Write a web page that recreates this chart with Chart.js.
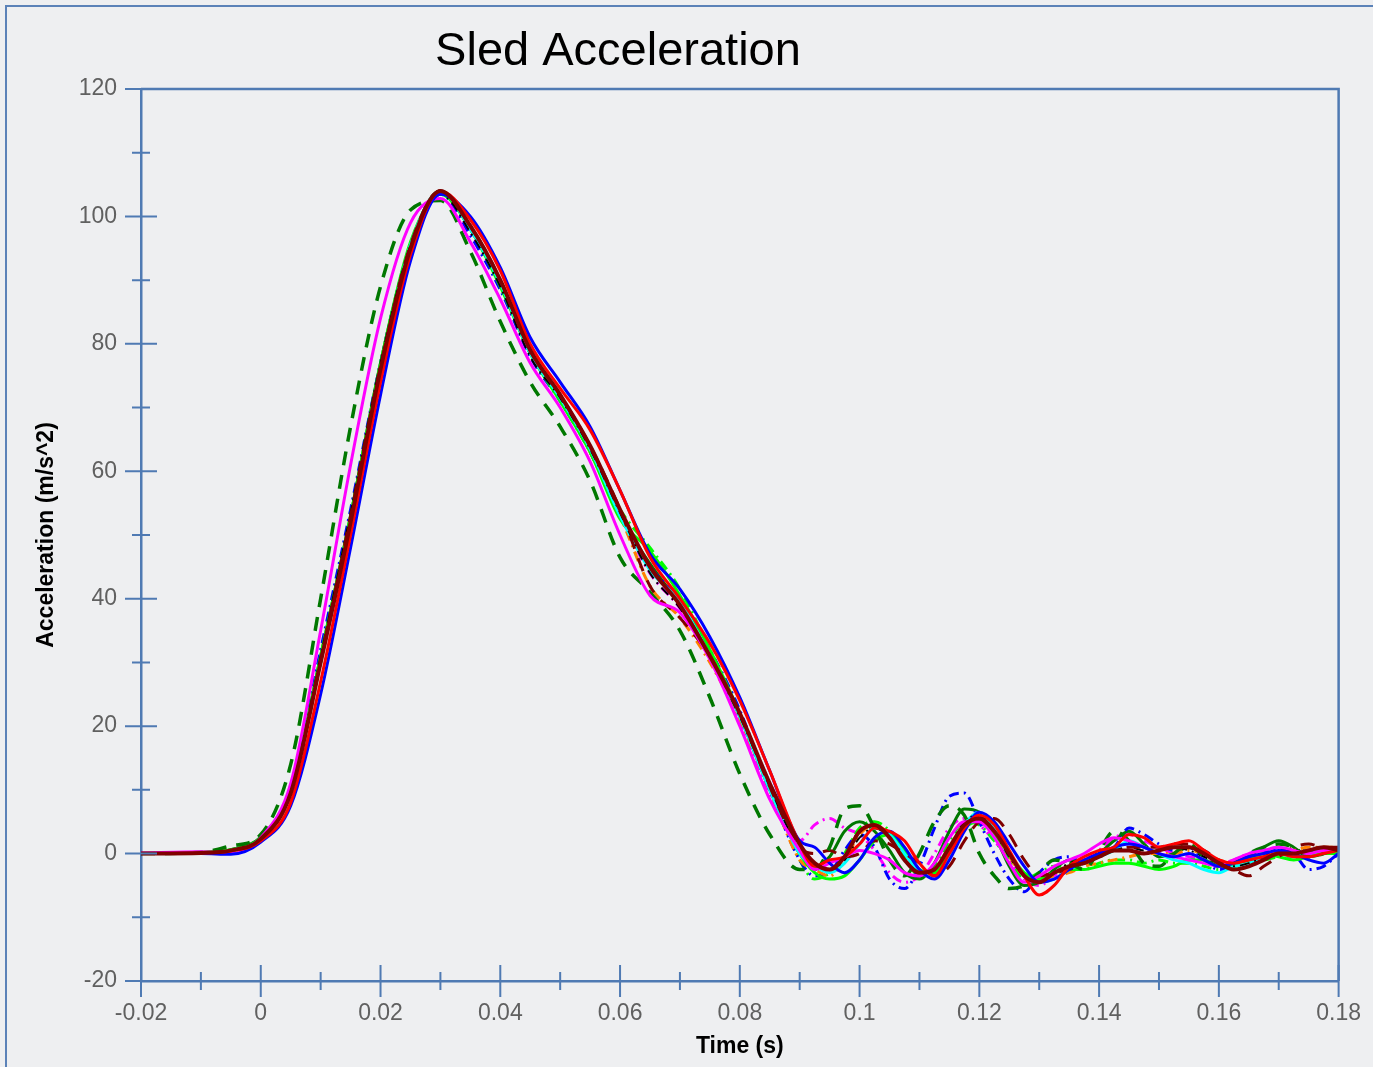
<!DOCTYPE html>
<html>
<head>
<meta charset="utf-8">
<title>Sled Acceleration</title>
<script src="https://cdn.jsdelivr.net/npm/chart.js@4.4.0/dist/chart.umd.min.js"></script>
<style>
  html, body { margin: 0; padding: 0; background: #eeeff1; overflow: hidden; }
  #wrap { width: 1380px; height: 1067px; position: relative; }
  canvas { display: block; }
</style>
</head>
<body>
<div id="wrap"><canvas id="sledChart"></canvas></div>
<script>
// sample times (s)
const time = [-0.02, -0.01, -0.005, 0, 0.005, 0.01, 0.015, 0.02, 0.025, 0.03, 0.035, 0.04, 0.045, 0.05,
  0.055, 0.06, 0.065, 0.07, 0.075, 0.08, 0.085, 0.09,
  0.0925, 0.095, 0.0975, 0.1, 0.1025, 0.105, 0.1075, 0.11, 0.1125, 0.115, 0.1175, 0.12, 0.1225, 0.125,
  0.1275, 0.13, 0.1325, 0.135, 0.1375, 0.14, 0.1425, 0.145, 0.1475, 0.15, 0.1525, 0.155, 0.1575, 0.16,
  0.1625, 0.165, 0.1675, 0.17, 0.1725, 0.175, 0.1775, 0.18];

// acceleration per test run (m/s^2)
const runMaroon = [0, 0.1, 0.5, 2.3, 9.5, 30, 52, 76, 95, 104, 98.5, 90, 79, 72, 64, 54, 45, 39, 31, 22, 11, 1.5,
  -1.5, -2.5, -0.5, 3.5, 4.5, 2.5, -1, -3, -2.5, 1, 4.5, 5.5, 3.5, 0, -3.5, -4.5, -3, -2, -1.5, -0.5,
  0.5, 0.5, 0, 0.5, 1, 1, 0, -1.5, -2.5, -2, -1, 0, 0, 0.5, 1, 0.5];
const runBlue = [0, 0, -0.1, 1.8, 7.5, 25, 48, 72, 93, 103.5, 100, 92, 81, 74, 67, 57, 47, 41.5, 34, 24.5, 13, 2,
  1, -1.5, -3, -1, 2.5, 3.5, 1, -2.5, -4, -1, 3.5, 6.5, 5, 1.5, -2, -4.5, -4, -2.5, -1, 0,
  1, 1.5, 1, 0, -0.5, 0, -1, -2, -1.5, -0.5, 0, 0.5, 0, -1, -1.5, 0];
const runRed = [0, 0.1, 0.4, 2, 8, 27, 50, 74, 94, 104, 99.5, 91.5, 80, 73, 66.5, 57, 46.5, 40, 33, 24, 13, 1.5,
  -2, -1, -0.5, 1.5, 4, 3.5, 2, -1.5, -3.5, 0, 4, 6, 4.5, 0.5, -3.5, -6.5, -5, -2, -0.5, 0.5,
  1, 3, 2.5, 1, 1.5, 2, 0.5, -1, -1.5, -1, -0.5, 0, -0.5, -0.5, 0, 0.5];
const runMagenta = [0.1, 0.3, 0, 2.5, 11, 35, 61, 84, 99, 102.8, 96, 87, 77, 70, 61.5, 50, 40.5, 37.8, 30.5, 20, 8.5, 0.5,
  -2.5, -1.5, -0.5, 0.5, 0, -1, -3, -3.5, -1.5, 2.5, 5, 5, 2.5, -1.5, -4.5, -3.5, -2, -1, 0, 1.5,
  2.5, 2, 1, 0, -0.5, -1, -1.5, -2, -1, 0, 0.5, 1, 0.5, 0, 0.5, 0.5];
const runGreenDash = [0, 0.2, 1.2, 3, 14, 40, 67, 89, 101, 102.5, 94.5, 83.5, 74, 67, 58.5, 46.5, 41, 35, 24.5, 12.5, 3, -2.5,
  -2.5, 1, 7, 7.5, 4, -1, -3.5, 0, 5, 7.5, 6, 0, -3.5, -5.5, -5, -3, -1, -1.5, -2.5, 0.5,
  3.5, 2, -1.5, -2, 0, 1.5, -0.5, -2, -1.5, 0, 1, 1.5, 1, -0.5, 0, 1];
const runLime = [0, 0.2, 0.6, 2.5, 10, 31, 53, 77, 96, 103.5, 98, 89, 78.5, 71, 63, 52.5, 47.5, 40.5, 32, 22, 10.5, 0,
  -3, -4, -3.5, -1, 2, 3, 0.5, -2.5, -3, 0.5, 4, 5, 3, 0, -3, -4, -3, -2.5, -2.5, -2,
  -1.5, -1.5, -2, -2.5, -2, -1, -1, -2, -2, -1, 0, -0.5, -1, -0.5, 0, 0];
const runCyan = [0, 0.1, 0.5, 2.4, 10, 30, 52, 76, 95.5, 104, 98, 89.5, 78.5, 71.5, 63.5, 53, 44.5, 39.5, 31, 21.5, 10, 0,
  -2, -3, -1.5, 1.5, 4, 3, 0, -3, -3.5, -0.5, 4.5, 6.5, 4, 0, -3.5, -4.5, -4, -2.5, -1.5, -0.5,
  0.5, 2, 1, 0, -1, -1.5, -2.5, -3, -2, -1.5, -0.5, 0, -0.5, 0, 0.5, 0.5];
const runOrange = [0, 0, 0.5, 2.3, 9.5, 30, 52, 76, 95, 103.5, 98, 89.5, 78.5, 71.5, 63, 53, 42, 37, 30, 21, 10, -1,
  -2.5, -3.5, -1, 3, 4.5, 3, 0.5, -2.5, -3, 0, 4, 5.5, 3, -0.5, -3.5, -4, -3.5, -3, -2, -1.5,
  -1, -0.5, 0, 0, 0, 0.5, 0, -1, -1.5, -1, -0.5, 0, 0.5, 1, 1, 1];
const runMaroonDash = [0, 0.1, 0.4, 2.2, 9.5, 30.5, 53, 76.5, 95.5, 104, 98.5, 90, 79, 72, 64, 54, 42, 37, 31, 22, 10.5, 1,
  0, 0.5, -0.5, 0, 2, 1.5, 0, -1.5, -3.5, -2, 2, 5, 5.5, 3, -1, -3.5, -3, -2.5, -1.5, -0.5,
  0.5, 1, 1, 1, 1.5, 1.5, 0.5, -1, -2.5, -3.5, -2, -0.5, 1, 1.5, 1, 1];
const runBlack = [0, 0.1, 0.5, 2.4, 10, 31, 53.5, 77, 95.5, 103.5, 97.5, 89, 78, 71.5, 63.5, 53.5, 44, 38.5, 30.5, 21.5, 10.5, 0.5,
  -1.5, -2.5, -1, 2.5, 4, 2.5, -1, -3, -2.5, 1, 5, 6, 3.5, -0.5, -3.5, -4.5, -3, -1.5, -1, 0,
  0.5, 1, 0.5, 0.5, 1, 0.5, -0.5, -1.5, -2, -1.5, -0.5, 0.5, 0.5, 0.5, 0.5, 0.5];
const runBlueDash = [0, 0.1, 0.5, 2.5, 10.5, 32, 54, 77, 95.5, 103.5, 97, 88.5, 78, 71, 63, 53, 45, 40, 32, 22.5, 10, -1,
  -3.5, -3, 0.5, 3, 1, -4, -5.5, -2, 4, 9, 9.5, 5, 0, -4, -6, -3, -1, -0.5, -1.5, 0,
  1, 4, 3, 1.5, 0.5, 1, -1, -2.5, -2, 0, 0.5, 0.5, 0, -2.5, -2, 0];
const runGreen = [0, 0.1, 0.6, 2.6, 10, 31, 53, 77, 95.5, 104, 98, 89.5, 78.5, 71.5, 63.5, 53, 45.5, 39, 31, 21.5, 10, 0,
  -2, -0.5, 3.5, 5, 3.5, 0.5, -3, -4, -1.5, 3.5, 7, 6.5, 3, -2, -5, -4.5, -2.5, -1, -1.5, 0,
  2, 3.5, 1.5, -0.5, 0, 1, 0, -1.5, -2, -0.5, 1, 2, 1, -0.5, 0, 1];
const runLimeDash = [0, 0.1, 0.4, 2.3, 9.5, 30, 52, 76, 95, 103.5, 98, 89.5, 78.5, 71.5, 63.5, 54, 48, 41.5, 32, 22, 10.5, -1,
  -4, -3, 0, 4, 5, 3.5, -0.5, -3.5, -2, 2, 5, 4.5, 2, -1, -4, -3, -2, -2, -2.5, -1.5,
  -1, -1, -1.5, -1, -1.5, -1.5, -2, -2.5, -1.5, -1, -1, -0.5, -0.5, 0, 0, 0];
const runMagentaDash = [0, 0.2, 0.5, 2.4, 10, 31, 53, 77, 95.5, 103.5, 97.5, 89, 78.5, 71.5, 63, 53, 44, 38.5, 30.5, 21, 9, 2,
  4.5, 5.5, 4, 3, 0.5, -3, -4.5, -3.5, 0, 4, 5.5, 4.5, 2, -1, -4, -5, -3.5, -2, -1, 0.5,
  2.5, 3, 2, 1, 0, -0.5, -1, -1.5, -1, 0, 0.5, 1, 0.5, 0, 0.5, 0.5];

// tick labels
const xTicks = [-0.02, 0, 0.02, 0.04, 0.06, 0.08, 0.1, 0.12, 0.14, 0.16, 0.18];
const yTicks = [-20, 0, 20, 40, 60, 80, 100, 120];

const axisColor = '#4f7ab3';
const font = '"Liberation Sans", Arial, sans-serif';
const solid = [];
const dashed = [14, 10];
const dashDot = [10, 5, 2, 5];

// first one is drawn on top
const runs = [
  { data: runMaroon, color: '#800000', dash: solid, width: 4 },
  { data: runRed, color: '#ff0000', dash: solid, width: 3 },
  { data: runBlue, color: '#0000ff', dash: solid, width: 3 },
  { data: runMagenta, color: '#ff00ff', dash: solid, width: 3 },
  { data: runGreenDash, color: '#007800', dash: dashed, width: 3.5 },
  { data: runMaroonDash, color: '#800000', dash: dashed, width: 3 },
  { data: runBlack, color: '#000000', dash: dashDot, width: 2 },
  { data: runCyan, color: '#00ffff', dash: solid, width: 3 },
  { data: runLime, color: '#00ff00', dash: solid, width: 3 },
  { data: runOrange, color: '#ff8000', dash: dashDot, width: 3 },
  { data: runBlueDash, color: '#0000ff', dash: dashDot, width: 3 },
  { data: runGreen, color: '#007800', dash: solid, width: 3 },
  { data: runLimeDash, color: '#00ff00', dash: dashDot, width: 3 },
  { data: runMagentaDash, color: '#ff00ff', dash: dashDot, width: 3 }
];

const datasets = runs.map(r => ({
  data: r.data.map((v, i) => ({ x: time[i], y: v })),
  borderColor: r.color,
  borderDash: r.dash,
  borderWidth: r.width,
  pointRadius: 0,
  fill: false,
  cubicInterpolationMode: 'monotone'
}));

const frameAndTicks = {
  id: 'frameAndTicks',
  afterDraw(chart) {
    const { ctx, chartArea: a, scales: { x, y } } = chart;
    ctx.save();
    // outer border
    ctx.strokeStyle = '#5b82b8';
    ctx.lineWidth = 2;
    ctx.strokeRect(6, 6, chart.width + 10, chart.height + 10);

    ctx.strokeStyle = axisColor;
    ctx.lineWidth = 2.5;
    ctx.beginPath();
    ctx.moveTo(a.left, a.top);
    ctx.lineTo(a.right, a.top);
    ctx.lineTo(a.right, a.bottom);
    ctx.stroke();

    ctx.lineWidth = 2;
    ctx.beginPath();
    xTicks.forEach((v, i) => {
      const px = x.getPixelForValue(v);
      ctx.moveTo(px, a.bottom - 16);
      ctx.lineTo(px, a.bottom + 16);
      if (i < xTicks.length - 1) {
        const m = x.getPixelForValue((v + xTicks[i + 1]) / 2);
        ctx.moveTo(m, a.bottom - 9);
        ctx.lineTo(m, a.bottom + 9);
      }
    });
    yTicks.forEach((v, i) => {
      const py = y.getPixelForValue(v);
      ctx.moveTo(a.left - 16, py);
      ctx.lineTo(a.left + 16, py);
      if (i < yTicks.length - 1) {
        const m = y.getPixelForValue((v + yTicks[i + 1]) / 2);
        ctx.moveTo(a.left - 9, m);
        ctx.lineTo(a.left + 9, m);
      }
    });
    ctx.stroke();

    // title
    ctx.fillStyle = '#000';
    ctx.font = '47px ' + font;
    ctx.textAlign = 'center';
    ctx.textBaseline = 'middle';
    ctx.fillText('Sled Acceleration', 618, 52);
    ctx.restore();
  }
};

new Chart(document.getElementById('sledChart'), {
  type: 'line',
  data: { datasets },
  plugins: [frameAndTicks],
  options: {
    responsive: true,
    maintainAspectRatio: false,
    animation: false,
    layout: { padding: { top: 89, right: 28, left: 0, bottom: 0 } },
    plugins: {
      legend: { display: false },
      tooltip: { enabled: false }
    },
    scales: {
      x: {
        type: 'linear',
        min: -0.02,
        max: 0.18,
        afterBuildTicks: s => { s.ticks = xTicks.map(v => ({ value: v })); },
        afterFit: s => { s.height = 86; },
        grid: { drawOnChartArea: false, drawTicks: false, display: false },
        border: { display: true, color: axisColor, width: 2.5 },
        ticks: {
          padding: 19,
          color: '#606060',
          font: { size: 23, family: font },
          maxRotation: 0,
          callback: v => String(Math.round(v * 1000) / 1000)
        },
        title: {
          display: true,
          text: 'Time (s)',
          color: '#000',
          font: { size: 23, weight: 'bold', family: font },
          padding: { top: 0, bottom: 7 }
        }
      },
      y: {
        min: -20,
        max: 120,
        afterBuildTicks: s => { s.ticks = yTicks.map(v => ({ value: v })); },
        afterFit: s => { s.width = 141; },
        grid: { drawOnChartArea: false, drawTicks: false, display: false },
        border: { display: true, color: axisColor, width: 2.5 },
        ticks: {
          padding: 24,
          color: '#606060',
          font: { size: 23, family: font }
        },
        title: {
          display: true,
          text: 'Acceleration (m/s^2)',
          color: '#000',
          font: { size: 23, weight: 'bold', family: font },
          padding: { top: 33, bottom: 0 }
        }
      }
    }
  }
});
</script>
</body>
</html>
